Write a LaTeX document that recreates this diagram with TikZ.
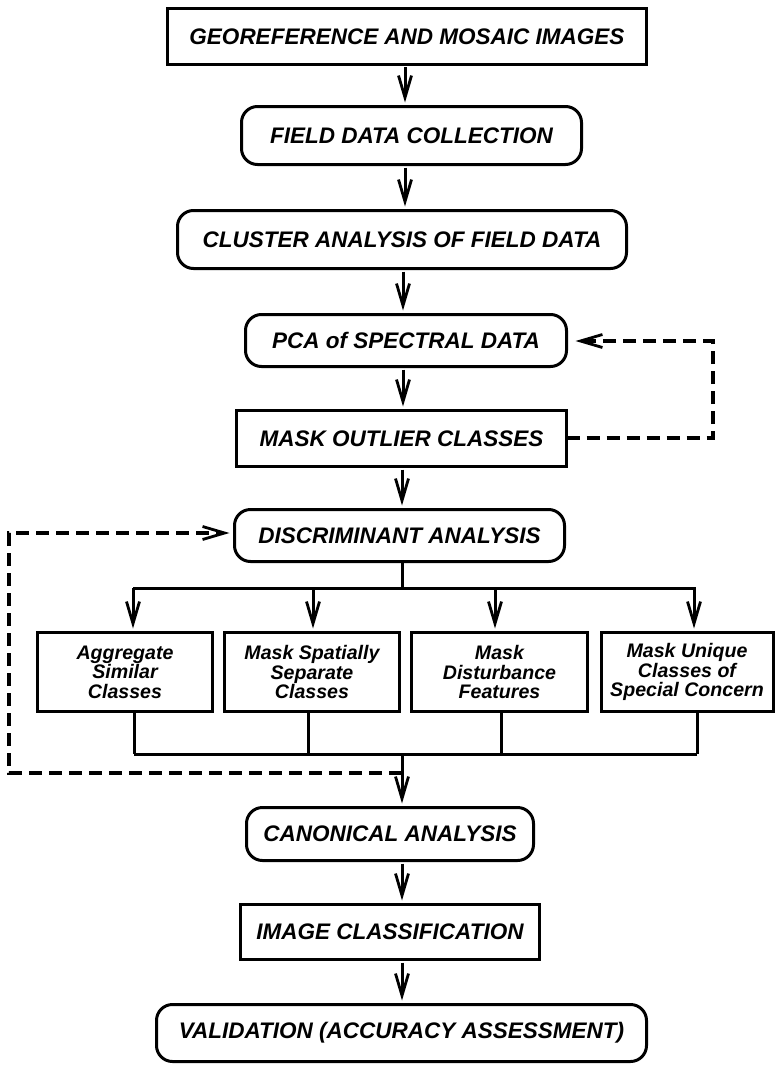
\documentclass[tikz,border=0pt]{standalone}
\usepackage{fontspec}
\setmainfont{Liberation Sans}
\usetikzlibrary{arrows.meta,calc}

\begin{document}
\begin{tikzpicture}[x=1pt,y=-1pt,
  every node/.style={inner sep=0pt, outer sep=0pt},
  bigtext/.style={font=\fontsize{22.5}{24}\selectfont\bfseries\itshape},
  smalltext/.style={font=\fontsize{19.6}{19.6}\selectfont\bfseries\itshape, align=center},
  sqbox/.style={draw, line width=3pt, bigtext},
  rdbox/.style={draw, line width=3pt, rounded corners=16pt, bigtext},
  subbox/.style={draw, line width=3pt, smalltext},
  conn/.style={line width=3pt},
  vtip/.style={-{Straight Barb[length=22pt,width=13pt,line width=2.8pt]}},
  arr/.style={conn, vtip, shorten >=4pt, shorten <=3pt},
  fback/.style={line width=4pt, dash pattern=on 13pt off 7pt, vtip},
]
\useasboundingbox (0,0) rectangle (776,1065);

% main chain of steps
\node[sqbox, minimum width=479pt, minimum height=56pt] (geo)     at (407,36.5)  {GEOREFERENCE AND MOSAIC IMAGES};
\node[rdbox, minimum width=340pt, minimum height=58pt] (field)   at (411.5,135.5) {FIELD DATA COLLECTION};
\node[rdbox, minimum width=449pt, minimum height=58pt] (cluster) at (402,239.5) {CLUSTER ANALYSIS OF FIELD DATA};
\node[rdbox, minimum width=321pt, minimum height=52pt] (pca)     at (406,340.5) {PCA of SPECTRAL DATA};
\node[sqbox, minimum width=330pt, minimum height=56pt] (mask)    at (401.5,438.5) {MASK OUTLIER CLASSES};
\node[rdbox, minimum width=330pt, minimum height=52pt] (disc)    at (399.5,535.5) {DISCRIMINANT ANALYSIS};

% four parallel branches
\node[subbox, minimum width=175pt, minimum height=79pt] (agg)  at (125,672)   {Aggregate\\Similar\\Classes};
\node[subbox, minimum width=175pt, minimum height=79pt] (sep)  at (312,672)   {Mask Spatially\\Separate\\Classes};
\node[subbox, minimum width=176pt, minimum height=79pt] (dist) at (499.5,672) {Mask\\Disturbance\\Features};
\node[subbox, minimum width=172pt, minimum height=79pt] (uniq) at (687,672)   {Mask Unique\\Classes of\\Special Concern};

% final steps
\node[rdbox, minimum width=287pt, minimum height=53pt] (canon) at (390,834)    {CANONICAL ANALYSIS};
\node[sqbox, minimum width=299pt, minimum height=55pt] (img)   at (390,932)    {IMAGE CLASSIFICATION};
\node[rdbox, minimum width=490pt, minimum height=57pt] (valid) at (401.5,1033) {VALIDATION (ACCURACY ASSESSMENT)};

% junction points of the branch bars
\coordinate (split)  at (402,588);
\coordinate (join)   at (402,754);
\coordinate (back)   at (402,773);
\coordinate (lcorn1) at (9,773);
\coordinate (lcorn2) at (9,533);
\coordinate (rcorn1) at (713,437.5);
\coordinate (rcorn2) at (713,341);

% straight arrows down the chain
\draw[arr] (405,0 |- geo.south)     -- (405,0 |- field.north);
\draw[arr] (405,0 |- field.south)   -- (405,0 |- cluster.north);
\draw[arr] (403,0 |- cluster.south) -- (403,0 |- pca.north);
\draw[arr] (403,0 |- pca.south)     -- (403,0 |- mask.north);
\draw[arr] (402,0 |- mask.south)    -- (402,0 |- disc.north);

% fan out to the branches
\draw[conn] (402,0 |- disc.south) -- (split);
\draw[conn] (133,588) -- (696,588);
\draw[arr, shorten <=0pt] (133,588) -- (133,0 |- agg.north);
\draw[arr, shorten <=0pt] (313,588) -- (313,0 |- sep.north);
\draw[arr, shorten <=0pt] (495,588) -- (495,0 |- dist.north);
\draw[arr, shorten <=0pt] (694,588) -- (694,0 |- uniq.north);

% gather the branches
\draw[conn] (134,0 |- agg.south)  -- (134,754);
\draw[conn] (308,0 |- sep.south)  -- (308,754);
\draw[conn] (501,0 |- dist.south) -- (501,754);
\draw[conn] (697,0 |- uniq.south) -- (697,754);
\draw[conn] (134,754) -- (697,754);
\draw[arr, shorten <=0pt] (join) -- (402,0 |- canon.north);

\draw[arr] (402,0 |- canon.south) -- (402,0 |- img.north);
\draw[arr] (402,0 |- img.south)   -- (402,0 |- valid.north);

% feedback loops
\draw[fback, shorten >=9pt] (mask.east |- rcorn1) -- (rcorn1) -- (rcorn2) -- (pca.east |- rcorn2);
\draw[fback, shorten >=5pt] (back) -- (lcorn1) -- (lcorn2) -- (disc.west |- lcorn2);
\end{tikzpicture}
\end{document}
